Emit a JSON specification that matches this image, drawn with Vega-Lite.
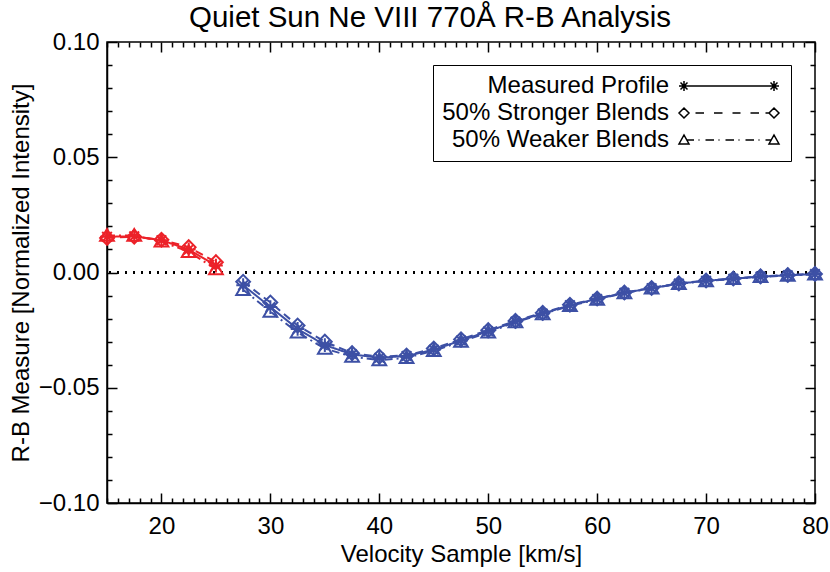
{
  "$schema": "https://vega.github.io/schema/vega-lite/v6.json",
  "autosize": {"type": "none"},
  "padding": {"left": 107, "top": 42, "right": 15, "bottom": 69},
  "width": 708,
  "height": 461,
  "config": {
    "font": "Liberation Sans",
    "view": {"stroke": "black", "strokeWidth": 1.5},
    "axis": {"grid": false, "domainColor": "black", "tickColor": "black", "labelColor": "black", "titleColor": "black", "titleFontWeight": "normal", "labelFontSize": 24, "titleFontSize": 24, "domainWidth": 1.5, "tickWidth": 1.5}
  },
  "title": {"text": "Quiet Sun Ne VIII 770Å R-B Analysis", "fontSize": 29.5, "fontWeight": "normal", "color": "black", "baseline": "alphabetic", "offset": -26, "dx": -31},
  "data": {"values": [
    {"x": 15, "seg": "red", "series": "Measured Profile", "y": 0.0155},
    {"x": 17.5, "seg": "red", "series": "Measured Profile", "y": 0.0157},
    {"x": 20, "seg": "red", "series": "Measured Profile", "y": 0.014},
    {"x": 22.5, "seg": "red", "series": "Measured Profile", "y": 0.010},
    {"x": 25, "seg": "red", "series": "Measured Profile", "y": 0.003},
    {"x": 27.5, "seg": "blue", "series": "Measured Profile", "y": -0.0055},
    {"x": 30, "seg": "blue", "series": "Measured Profile", "y": -0.015},
    {"x": 32.5, "seg": "blue", "series": "Measured Profile", "y": -0.0245},
    {"x": 35, "seg": "blue", "series": "Measured Profile", "y": -0.0315},
    {"x": 37.5, "seg": "blue", "series": "Measured Profile", "y": -0.0355},
    {"x": 40, "seg": "blue", "series": "Measured Profile", "y": -0.037},
    {"x": 42.5, "seg": "blue", "series": "Measured Profile", "y": -0.0362},
    {"x": 45, "seg": "blue", "series": "Measured Profile", "y": -0.0335},
    {"x": 47.5, "seg": "blue", "series": "Measured Profile", "y": -0.0295},
    {"x": 50, "seg": "blue", "series": "Measured Profile", "y": -0.0255},
    {"x": 52.5, "seg": "blue", "series": "Measured Profile", "y": -0.0213},
    {"x": 55, "seg": "blue", "series": "Measured Profile", "y": -0.0178},
    {"x": 57.5, "seg": "blue", "series": "Measured Profile", "y": -0.0142},
    {"x": 60, "seg": "blue", "series": "Measured Profile", "y": -0.0115},
    {"x": 62.5, "seg": "blue", "series": "Measured Profile", "y": -0.0088},
    {"x": 65, "seg": "blue", "series": "Measured Profile", "y": -0.0068},
    {"x": 67.5, "seg": "blue", "series": "Measured Profile", "y": -0.0048},
    {"x": 70, "seg": "blue", "series": "Measured Profile", "y": -0.0036},
    {"x": 72.5, "seg": "blue", "series": "Measured Profile", "y": -0.0027},
    {"x": 75, "seg": "blue", "series": "Measured Profile", "y": -0.0018},
    {"x": 77.5, "seg": "blue", "series": "Measured Profile", "y": -0.0012},
    {"x": 80, "seg": "blue", "series": "Measured Profile", "y": -0.0007},
    {"x": 15, "seg": "red", "series": "50% Stronger Blends", "y": 0.015},
    {"x": 17.5, "seg": "red", "series": "50% Stronger Blends", "y": 0.0155},
    {"x": 20, "seg": "red", "series": "50% Stronger Blends", "y": 0.0142},
    {"x": 22.5, "seg": "red", "series": "50% Stronger Blends", "y": 0.011},
    {"x": 25, "seg": "red", "series": "50% Stronger Blends", "y": 0.0045},
    {"x": 27.5, "seg": "blue", "series": "50% Stronger Blends", "y": -0.004},
    {"x": 30, "seg": "blue", "series": "50% Stronger Blends", "y": -0.013},
    {"x": 32.5, "seg": "blue", "series": "50% Stronger Blends", "y": -0.023},
    {"x": 35, "seg": "blue", "series": "50% Stronger Blends", "y": -0.030},
    {"x": 37.5, "seg": "blue", "series": "50% Stronger Blends", "y": -0.035},
    {"x": 40, "seg": "blue", "series": "50% Stronger Blends", "y": -0.0365},
    {"x": 42.5, "seg": "blue", "series": "50% Stronger Blends", "y": -0.036},
    {"x": 45, "seg": "blue", "series": "50% Stronger Blends", "y": -0.033},
    {"x": 47.5, "seg": "blue", "series": "50% Stronger Blends", "y": -0.029},
    {"x": 50, "seg": "blue", "series": "50% Stronger Blends", "y": -0.025},
    {"x": 52.5, "seg": "blue", "series": "50% Stronger Blends", "y": -0.021},
    {"x": 55, "seg": "blue", "series": "50% Stronger Blends", "y": -0.0175},
    {"x": 57.5, "seg": "blue", "series": "50% Stronger Blends", "y": -0.014},
    {"x": 60, "seg": "blue", "series": "50% Stronger Blends", "y": -0.0113},
    {"x": 62.5, "seg": "blue", "series": "50% Stronger Blends", "y": -0.0087},
    {"x": 65, "seg": "blue", "series": "50% Stronger Blends", "y": -0.0067},
    {"x": 67.5, "seg": "blue", "series": "50% Stronger Blends", "y": -0.0047},
    {"x": 70, "seg": "blue", "series": "50% Stronger Blends", "y": -0.0035},
    {"x": 72.5, "seg": "blue", "series": "50% Stronger Blends", "y": -0.0026},
    {"x": 75, "seg": "blue", "series": "50% Stronger Blends", "y": -0.0017},
    {"x": 77.5, "seg": "blue", "series": "50% Stronger Blends", "y": -0.0011},
    {"x": 80, "seg": "blue", "series": "50% Stronger Blends", "y": -0.0006},
    {"x": 15, "seg": "red", "series": "50% Weaker Blends", "y": 0.016},
    {"x": 17.5, "seg": "red", "series": "50% Weaker Blends", "y": 0.016},
    {"x": 20, "seg": "red", "series": "50% Weaker Blends", "y": 0.0135},
    {"x": 22.5, "seg": "red", "series": "50% Weaker Blends", "y": 0.009},
    {"x": 25, "seg": "red", "series": "50% Weaker Blends", "y": 0.0015},
    {"x": 27.5, "seg": "blue", "series": "50% Weaker Blends", "y": -0.0075},
    {"x": 30, "seg": "blue", "series": "50% Weaker Blends", "y": -0.017},
    {"x": 32.5, "seg": "blue", "series": "50% Weaker Blends", "y": -0.026},
    {"x": 35, "seg": "blue", "series": "50% Weaker Blends", "y": -0.033},
    {"x": 37.5, "seg": "blue", "series": "50% Weaker Blends", "y": -0.0365},
    {"x": 40, "seg": "blue", "series": "50% Weaker Blends", "y": -0.038},
    {"x": 42.5, "seg": "blue", "series": "50% Weaker Blends", "y": -0.037},
    {"x": 45, "seg": "blue", "series": "50% Weaker Blends", "y": -0.034},
    {"x": 47.5, "seg": "blue", "series": "50% Weaker Blends", "y": -0.030},
    {"x": 50, "seg": "blue", "series": "50% Weaker Blends", "y": -0.026},
    {"x": 52.5, "seg": "blue", "series": "50% Weaker Blends", "y": -0.0215},
    {"x": 55, "seg": "blue", "series": "50% Weaker Blends", "y": -0.018},
    {"x": 57.5, "seg": "blue", "series": "50% Weaker Blends", "y": -0.0145},
    {"x": 60, "seg": "blue", "series": "50% Weaker Blends", "y": -0.0117},
    {"x": 62.5, "seg": "blue", "series": "50% Weaker Blends", "y": -0.0089},
    {"x": 65, "seg": "blue", "series": "50% Weaker Blends", "y": -0.0069},
    {"x": 67.5, "seg": "blue", "series": "50% Weaker Blends", "y": -0.0049},
    {"x": 70, "seg": "blue", "series": "50% Weaker Blends", "y": -0.0037},
    {"x": 72.5, "seg": "blue", "series": "50% Weaker Blends", "y": -0.0028},
    {"x": 75, "seg": "blue", "series": "50% Weaker Blends", "y": -0.0019},
    {"x": 77.5, "seg": "blue", "series": "50% Weaker Blends", "y": -0.0013},
    {"x": 80, "seg": "blue", "series": "50% Weaker Blends", "y": -0.0008}
  ]},
  "layer": [
    {
      "mark": {"type": "rule", "color": "black", "strokeWidth": 2, "strokeDash": [2, 6]},
      "encoding": {"y": {"datum": 0, "type": "quantitative", "scale": {"domain": [-0.1, 0.1], "nice": false, "zero": false}, "axis": null}}
    },
    {
      "mark": {"type": "line", "strokeWidth": 2},
      "encoding": {
        "x": {"field": "x", "type": "quantitative", "scale": {"domain": [15, 80], "nice": false, "zero": false},
          "axis": {"title": "Velocity Sample [km/s]", "values": [15,16,17,18,19,20,21,22,23,24,25,26,27,28,29,30,31,32,33,34,35,36,37,38,39,40,41,42,43,44,45,46,47,48,49,50,51,52,53,54,55,56,57,58,59,60,61,62,63,64,65,66,67,68,69,70,71,72,73,74,75,76,77,78,79,80],
            "labelExpr": "datum.value % 10 == 0 ? datum.label : ''", "labelOverlap": false, "labelFlush": false,
            "tickSize": {"condition": {"test": "datum.value % 10 == 0", "value": -10}, "value": -5}, "labelPadding": 21, "titlePadding": -1}},
        "y": {"field": "y", "type": "quantitative", "scale": {"domain": [-0.1, 0.1], "nice": false, "zero": false},
          "axis": {"title": "R-B Measure [Normalized Intensity]", "values": [-0.1,-0.09,-0.08,-0.07,-0.06,-0.05,-0.04,-0.03,-0.02,-0.01,0,0.01,0.02,0.03,0.04,0.05,0.06,0.07,0.08,0.09,0.1],
            "labelExpr": "abs(round(datum.value*100)) % 5 == 0 ? format(datum.value, '.2f') : ''", "labelOverlap": false, "labelFlush": false,
            "tickSize": {"condition": {"test": "abs(round(datum.value*100)) % 5 == 0", "value": -10}, "value": -5}, "labelPadding": 18, "titlePadding": 5}},
        "color": {"field": "seg", "type": "nominal", "scale": {"domain": ["red", "blue"], "range": ["#ec2229", "#3d50a5"]}, "legend": null},
        "detail": {"field": "series"},
        "strokeDash": {"field": "series", "type": "nominal", "scale": {"domain": ["Measured Profile", "50% Stronger Blends", "50% Weaker Blends"], "range": [[1, 0], [8, 5], [8, 4, 2, 4]]}, "legend": null}
      }
    },
    {
      "mark": {"type": "point", "filled": false, "strokeWidth": 2, "size": 190, "opacity": 1},
      "encoding": {
        "x": {"field": "x", "type": "quantitative", "axis": null},
        "y": {"field": "y", "type": "quantitative", "axis": null},
        "color": {"field": "seg", "type": "nominal", "legend": null},
        "shape": {"field": "series", "type": "nominal", "scale": {"domain": ["Measured Profile", "50% Stronger Blends", "50% Weaker Blends"], "range": ["M-1,0L1,0M0,-1L0,1M-0.7,-0.7L0.7,0.7M-0.7,0.7L0.7,-0.7", "M-1,0L0,-1L1,0L0,1Z", "M-1,0.75L1,0.75L0,-0.95Z"]}, "legend": null}
      }
    },
    {
      "mark": {"type": "point", "filled": false, "opacity": 0, "size": 100, "strokeWidth": 1.5},
      "encoding": {
        "x": {"field": "x", "type": "quantitative", "axis": {"orient": "top", "title": null, "labels": false, "domain": false, "values": [15,16,17,18,19,20,21,22,23,24,25,26,27,28,29,30,31,32,33,34,35,36,37,38,39,40,41,42,43,44,45,46,47,48,49,50,51,52,53,54,55,56,57,58,59,60,61,62,63,64,65,66,67,68,69,70,71,72,73,74,75,76,77,78,79,80], "tickSize": {"condition": {"test": "datum.value % 10 == 0", "value": -10}, "value": -5}}},
        "y": {"field": "y", "type": "quantitative", "axis": {"orient": "right", "title": null, "labels": false, "domain": false, "values": [-0.1,-0.09,-0.08,-0.07,-0.06,-0.05,-0.04,-0.03,-0.02,-0.01,0,0.01,0.02,0.03,0.04,0.05,0.06,0.07,0.08,0.09,0.1], "tickSize": {"condition": {"test": "abs(round(datum.value*100)) % 5 == 0", "value": -10}, "value": -5}}},
        "shape": {"field": "series", "type": "nominal",
          "scale": {"domain": ["Measured Profile", "50% Stronger Blends", "50% Weaker Blends"],
            "range": [
              "M46,0L64,0M45,0L47,0M46,-1L46,1M45.3,-0.7L46.7,0.7M45.3,0.7L46.7,-0.7M63,0L65,0M64,-1L64,1M63.3,-0.7L64.7,0.7M63.3,0.7L64.7,-0.7",
              "M45,0L46,-1L47,0L46,1ZM63,0L64,-1L65,0L64,1ZM48.3,0L50,0M52,0L53.7,0M55.7,0L57.3,0M59.3,0L61,0M62.3,0L63,0",
              "M45,0.8L47,0.8L46,-1ZM63,0.8L65,0.8L64,-1ZM46.6,0L48,0M48.9,0L49.1,0M50.3,0L52,0M52.9,0L53.1,0M54.3,0L56,0M56.9,0L57.1,0M58.3,0L60,0M60.9,0L61.1,0M62.3,0L63.4,0"
            ]},
          "legend": {"title": null, "orient": "none", "legendX": 326, "legendY": 23, "symbolSize": 100, "symbolOpacity": 1, "symbolStrokeColor": "black", "symbolFillColor": "transparent", "symbolStrokeWidth": 1.5, "labelFontSize": 24, "labelColor": "black", "labelAlign": "right", "labelOffset": 203, "labelLimit": 400, "strokeColor": "black", "fillColor": "white", "padding": 9, "rowPadding": 3}}
      }
    }
  ],
  "resolve": {"scale": {"shape": "independent"}, "axis": {"x": "independent", "y": "independent"}}
}
